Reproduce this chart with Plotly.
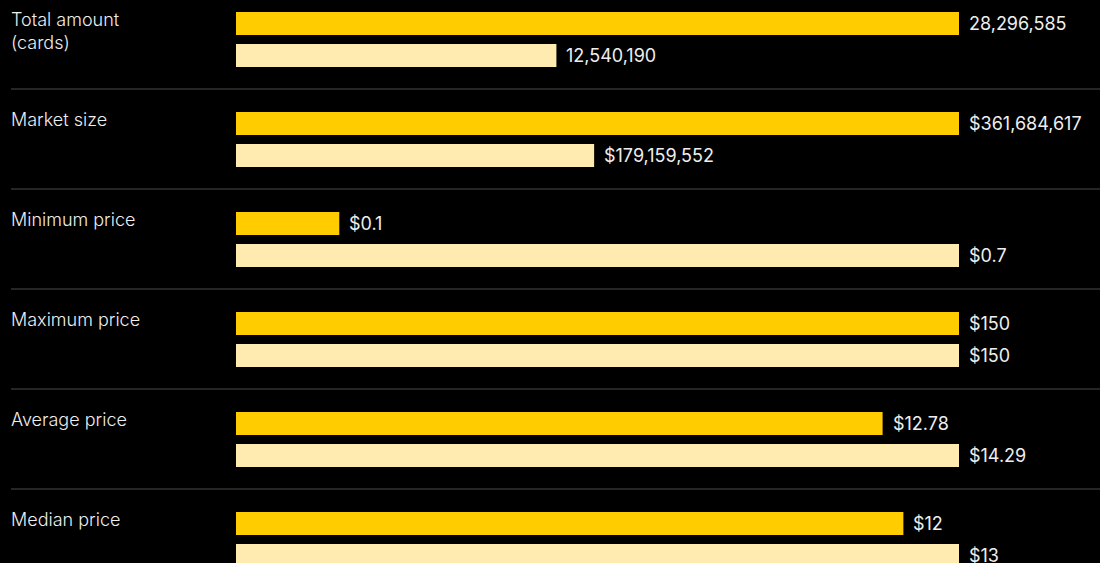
import plotly.graph_objects as go

# Metrics compared between two card sets
metrics = ["Total amount<br>(cards)", "Market size", "Minimum price",
           "Maximum price", "Average price", "Median price"]
series_a = [28296585, 361684617, 0.1, 150, 12.78, 12]
series_b = [12540190, 179159552, 0.7, 150, 14.29, 13]
labels_a = ["28,296,585", "$361,684,617", "$0.1", "$150", "$12.78", "$12"]
labels_b = ["12,540,190", "$179,159,552", "$0.7", "$150", "$14.29", "$13"]

COLOR_A = "#FFCC00"
COLOR_B = "#FFEAB0"
BG = "#000000"
W, H = 1100, 563
X0, X1 = 236 / W, 959 / W
FONT = "Inter"
TEXT = "#EEEEEE"

fig = go.Figure()
layout_axes = {}
annotations = []
shapes = []

for i, name in enumerate(metrics):
    xa = "x" if i == 0 else f"x{i + 1}"
    key = "xaxis" if i == 0 else f"xaxis{i + 1}"
    gmax = max(series_a[i], series_b[i])
    ax = dict(domain=[X0, X1], range=[0, gmax], visible=False, fixedrange=True)
    if i > 0:
        ax["overlaying"] = "x"
    layout_axes[key] = ax

    ya, yb = i + 0.235, i + 0.555
    fig.add_trace(go.Bar(x=[series_a[i]], y=[ya], base=0, orientation="h", width=0.23,
                         marker=dict(color=COLOR_A, line=dict(width=0)),
                         xaxis=xa, yaxis="y", showlegend=False, hoverinfo="skip"))
    fig.add_trace(go.Bar(x=[series_b[i]], y=[yb], base=0, orientation="h", width=0.23,
                         marker=dict(color=COLOR_B, line=dict(width=0)),
                         xaxis=xa, yaxis="y", showlegend=False, hoverinfo="skip"))

    for val, yy, txt in ((series_a[i], ya, labels_a[i]), (series_b[i], yb, labels_b[i])):
        annotations.append(dict(x=val, y=yy, xref=xa, yref="y", text=txt, showarrow=False,
                                xanchor="left", yanchor="middle", xshift=8,
                                font=dict(family=FONT, size=18, color=TEXT)))

    annotations.append(dict(x=11 / W, y=i + 0.065, xref="paper", yref="y", text=name,
                            showarrow=False, xanchor="left", yanchor="top", align="left",
                            xshift=-2,
                            font=dict(family=FONT, size=18, color=TEXT, weight=300)))

    if i < len(metrics) - 1:
        shapes.append(dict(type="line", xref="paper", yref="y", x0=11 / W, x1=1,
                           y0=i + 0.89, y1=i + 0.89, line=dict(color="#4A4A4A", width=1)))

fig.update_layout(
    width=W, height=H,
    margin=dict(l=0, r=0, t=0, b=0),
    paper_bgcolor=BG, plot_bgcolor=BG,
    barmode="overlay",
    yaxis=dict(range=[H / 100, 0], visible=False, fixedrange=True, domain=[0, 1]),
    annotations=annotations, shapes=shapes,
    **layout_axes,
)

fig.write_html("out.html", config={"displayModeBar": False})
